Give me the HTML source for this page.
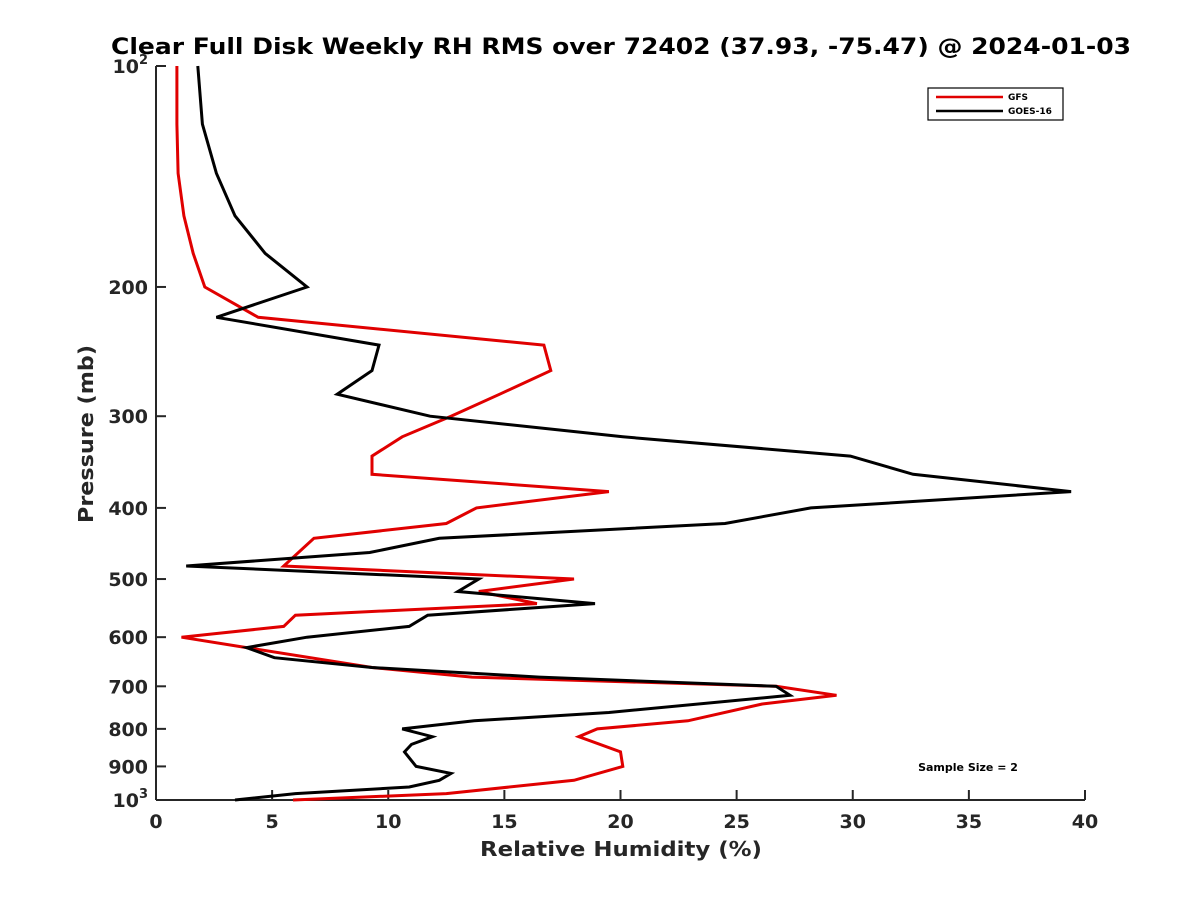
<!DOCTYPE html>
<html><head><meta charset="utf-8"><style>
body{margin:0;background:#fff;}
svg{display:block;font-family:"DejaVu Sans","Liberation Sans",sans-serif;}
</style></head><body>
<svg width="1200" height="900" xmlns="http://www.w3.org/2000/svg">
<rect width="1200" height="900" fill="#fff"/>
<text x="621" y="54" text-anchor="middle" font-size="22" font-weight="bold" fill="#000" textLength="1020" lengthAdjust="spacingAndGlyphs">Clear Full Disk Weekly RH RMS over 72402 (37.93, -75.47) @ 2024-01-03</text>
<g id="axes"></g>
<g id="series"></g>
<g>
<rect x="928" y="88" width="135" height="32" fill="#fff" stroke="#000" stroke-width="1.2"/>
<line x1="936" y1="97" x2="1003" y2="97" stroke="#e00000" stroke-width="2.5"/>
<text x="1008" y="100" font-size="9" font-weight="bold">GFS</text>
<line x1="936" y1="111" x2="1003" y2="111" stroke="#000" stroke-width="2.5"/>
<text x="1008" y="114" font-size="9" font-weight="bold">GOES-16</text>
</g>
<text x="968" y="771" text-anchor="middle" font-size="11" font-weight="bold">Sample Size = 2</text>
<text x="621" y="856" text-anchor="middle" font-size="20" font-weight="bold" fill="#262626" textLength="282" lengthAdjust="spacingAndGlyphs">Relative Humidity (%)</text>
<text transform="translate(93,434) rotate(-90)" text-anchor="middle" font-size="20" font-weight="bold" fill="#262626" textLength="178" lengthAdjust="spacingAndGlyphs">Pressure (mb)</text>
</svg>
<script>
const xTicks=[0,5,10,15,20,25,30,35,40];
const yTicks=[100,200,300,400,500,600,700,800,900,1000];
const yTickLabels=["10|2","200","300","400","500","600","700","800","900","10|3"];
const gfsP=[100,120,140,160,180,200,220,240,260,280,300,320,340,360,380,400,420,440,480,500,520,540,560,580,600,620,660,680,700,720,740,780,800,820,860,900,940,980,1000];
const gfsV=[0.9,0.9,0.95,1.2,1.6,2.1,4.4,16.7,17.0,14.8,12.7,10.6,9.3,9.3,19.5,13.8,12.5,6.8,5.5,18.0,13.9,16.4,6.0,5.5,1.1,3.9,9.3,13.6,26.7,29.3,26.1,22.9,19.0,18.2,20.0,20.1,18.0,12.5,5.9];
const goesP=[100,120,140,160,180,200,220,240,260,280,300,320,340,360,380,400,420,440,460,480,500,520,540,560,580,600,620,640,660,680,700,720,760,780,800,820,840,860,900,920,940,960,980,1000];
const goesV=[1.8,2.0,2.6,3.4,4.7,6.5,2.6,9.6,9.3,7.8,11.8,20.1,29.9,32.6,39.4,28.2,24.5,12.2,9.2,1.3,13.9,13.0,18.9,11.7,10.9,6.5,3.9,5.1,9.3,16.5,26.7,27.3,19.5,13.7,10.6,11.9,11.0,10.7,11.2,12.7,12.2,10.9,6.0,3.4];
const X0=156,X1=1085,Y0=66,Y1=800;
const xs=v=>X0+(v-0)/(40-0)*(X1-X0);
const ys=p=>Y0+Math.log10(p/100)*(Y1-Y0);
const NS="http://www.w3.org/2000/svg";
function mk(tag,attrs,parent){const e=document.createElementNS(NS,tag);for(const k in attrs)e.setAttribute(k,attrs[k]);parent.appendChild(e);return e;}
const axes=document.getElementById('axes');
let e=mk('line',{x1:X0,y1:Y1,x2:X1,y2:Y1,stroke:'#262626','stroke-width':2},axes);


e=mk('line',{x1:X0,y1:Y0,x2:X0,y2:Y1,stroke:'#262626','stroke-width':2},axes);


xTicks.forEach(t=>{
 const x=xs(t);
 let l=mk('line',{x1:x,y1:Y1,x2:x,y2:Y1-10,stroke:'#262626','stroke-width':2},axes);
 
 
 let tx=mk('text',{x:x,y:828,'text-anchor':'middle','font-size':19,'font-weight':'bold',fill:'#262626'},axes);
 tx.textContent=t;
 
 
});
yTicks.forEach((t,i)=>{
 const y=ys(t);
 let l=mk('line',{x1:X0,y1:y,x2:X0+10,y2:y,stroke:'#262626','stroke-width':2},axes);
 
 
 let tx=mk('text',{x:148,y:y+7,'text-anchor':'end','font-size':19,'font-weight':'bold',fill:'#262626'},axes);
 const parts=yTickLabels[i].split('|');
 tx.textContent=parts[0];
 if(parts[1]){const s=mk('tspan',{dy:-9,'font-size':13},tx);s.textContent=parts[1];}
 
 
});
const ser=document.getElementById('series');
function drawLine(P,V,color,name){
 const pts=P.map((p,i)=>xs(V[i]).toFixed(1)+','+ys(p).toFixed(1)).join(' ');
 const pl=mk('polyline',{points:pts,fill:'none',stroke:color,'stroke-width':3,'stroke-linejoin':'miter'},ser);
 
 
}
drawLine(gfsP,gfsV,'#e00000','gfs-line');
drawLine(goesP,goesV,'#000','goes16-line');
</script>
</body></html>
